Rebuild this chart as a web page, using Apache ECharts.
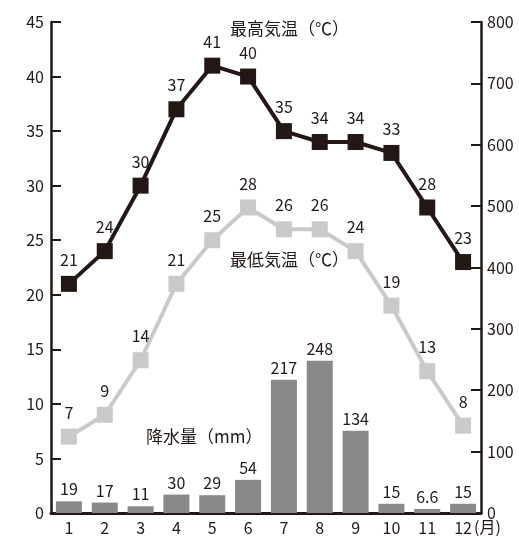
<!DOCTYPE html>
<html>
<head>
<meta charset="utf-8">
<script src="https://cdn.jsdelivr.net/npm/echarts@6/dist/echarts.min.js"></script>
<style>html,body{margin:0;padding:0;background:#fff}#c{width:519px;height:536px}</style>
</head>
<body>
<div id="c"></div>
<script>
const months = ['1','2','3','4','5','6','7','8','9','10','11','12'];
const maxTemp = [21,24,30,37,41,40,35,34,34,33,28,23];
const minTemp = [7,9,14,21,25,28,26,26,24,19,13,8];
const precip = [19,17,11,30,29,54,217,248,134,15,6.6,15];
const tempTicks = [0,45,5];
const precipTicks = [0,800,100];

const FONT = '"Noto Sans CJK JP", "Noto Sans", sans-serif';
const INK = '#231815';

const chart = echarts.init(document.getElementById('c'), null, {renderer:'canvas'});
chart.setOption({
  animation: false,
  textStyle: {fontFamily: FONT},
  grid: {left: 51, right: 38, top: 22, bottom: 22, containLabel: false},
  xAxis: {
    type: 'category', data: months, boundaryGap: true,
    axisLine: {lineStyle: {color: INK, width: 3}},
    axisTick: {show: false},
    axisLabel: {color: INK, fontSize: 16, fontFamily: FONT, margin: 7}
  },
  yAxis: [
    {type: 'value', min: tempTicks[0], max: tempTicks[1], interval: tempTicks[2],
     splitLine: {show: false},
     axisLine: {show: true, lineStyle: {color: INK, width: 2.5}},
     axisTick: {show: true, inside: true, length: 10, lineStyle: {color: INK, width: 2}},
     axisLabel: {color: INK, fontSize: 16, fontFamily: FONT, margin: 7}},
    {type: 'value', min: precipTicks[0], max: precipTicks[1], interval: precipTicks[2],
     splitLine: {show: false},
     axisLine: {show: true, lineStyle: {color: INK, width: 2.5}},
     axisTick: {show: true, inside: true, length: 10, lineStyle: {color: INK, width: 2}},
     axisLabel: {color: INK, fontSize: 16, fontFamily: FONT, margin: 6}}
  ],
  series: [
    {name: '降水量', type: 'bar', yAxisIndex: 1, data: precip, barWidth: 26,
     itemStyle: {color: '#898989'},
     label: {show: true, position: 'top', distance: 4, color: INK, fontSize: 16, fontFamily: FONT},
     z: 1},
    {name: '最低気温', type: 'line', yAxisIndex: 0, data: minTemp,
     symbol: 'rect', symbolSize: 16, lineStyle: {color: '#c9caca', width: 4},
     itemStyle: {color: '#c9caca'},
     label: {show: true, position: 'top', distance: 8, color: INK, fontSize: 16, fontFamily: FONT},
     z: 3},
    {name: '最高気温', type: 'line', yAxisIndex: 0, data: maxTemp,
     symbol: 'rect', symbolSize: 16, lineStyle: {color: INK, width: 4},
     itemStyle: {color: INK},
     label: {show: true, position: 'top', distance: 8, color: INK, fontSize: 16, fontFamily: FONT},
     z: 4}
  ],
  graphic: [
    {type: 'text', left: 230, top: 20, style: {text: '最高気温（℃）', fontSize: 17, fontFamily: FONT, fill: INK}},
    {type: 'text', left: 230, top: 251, style: {text: '最低気温（℃）', fontSize: 17, fontFamily: FONT, fill: INK}},
    {type: 'text', left: 146, top: 428, style: {text: '降水量（mm）', fontSize: 17, fontFamily: FONT, fill: INK}},
    {type: 'text', left: 474, top: 519, style: {text: '(月)', fontSize: 16, fontFamily: FONT, fill: INK}}
  ]
});
</script>
</body>
</html>
